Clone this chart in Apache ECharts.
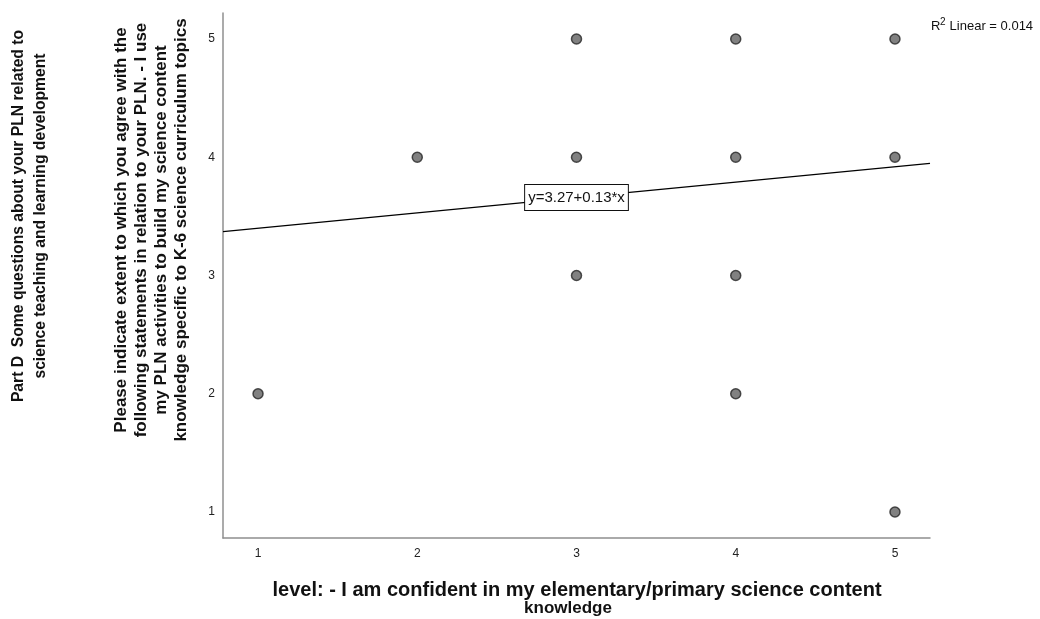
<!DOCTYPE html>
<html>
<head>
<meta charset="utf-8">
<script src="https://cdn.jsdelivr.net/npm/echarts@6/dist/echarts.min.js"></script>
<style>
  html, body { margin: 0; padding: 0; background: #fff; }
  #chart { width: 1040px; height: 619px; }
</style>
</head>
<body>
<div id="chart"></div>
<script>
// Responses on the two 1-5 agreement items (one point per response pattern)
const confidenceLevel = [1, 2, 3, 3, 3, 4, 4, 4, 4, 5, 5, 5];
const plnKnowledgeUse = [2, 4, 5, 4, 3, 5, 4, 3, 2, 5, 4, 1];

// Tick labels shown on both axes
const tickValues = [1, 2, 3, 4, 5];

// Axis extent (padded around the 1-5 scale)
const axisMin = 0.78;
const axisMax = 5.22;

// Linear fit
const fitIntercept = 3.27;
const fitSlope = 0.13;
const fitRSquared = 0.014;

const xTitleLines = [
  'level: - I am confident in my elementary/primary science content',
  'knowledge'
];
const yTitleOuterLines = [
  'Part D  Some questions about your PLN related to',
  'science teaching and learning development'
];
const yTitleInnerLines = [
  'Please indicate extent to which you agree with the',
  'following statements in relation to your PLN. - I use',
  'my PLN activities to build my science content',
  'knowledge specific to K-6 science curriculum topics'
];

const points = confidenceLevel.map((x, i) => [x, plnKnowledgeUse[i]]);
const fitAt = x => fitIntercept + fitSlope * x;
const fitLine = [[axisMin, fitAt(axisMin)], [axisMax, fitAt(axisMax)]];
const fitLabelX = 3;

const chart = echarts.init(document.getElementById('chart'), null, { renderer: 'canvas' });

const fontStack = '"Liberation Sans", Arial, sans-serif';

const axisCommon = {
  type: 'value',
  min: axisMin,
  max: axisMax,
  splitLine: { show: false },
  axisTick: { show: false },
  axisLine: { show: true, lineStyle: { color: '#8f8f8f', width: 1.5 } },
  axisLabel: {
    customValues: tickValues,
    color: '#222',
    fontFamily: fontStack,
    fontSize: 12
  }
};

chart.setOption({
  animation: false,
  backgroundColor: '#fff',
  grid: { left: 223, right: 110, top: 13, bottom: 81, containLabel: false },
  xAxis: Object.assign({}, axisCommon, {
    axisLabel: Object.assign({}, axisCommon.axisLabel, { margin: 10 })
  }),
  yAxis: Object.assign({}, axisCommon, {
    axisLabel: Object.assign({}, axisCommon.axisLabel, { margin: 8 })
  }),
  series: [
    {
      name: 'Linear fit',
      type: 'line',
      data: fitLine,
      symbol: 'none',
      silent: true,
      z: 2,
      lineStyle: { color: '#000', width: 1.2 },
      markPoint: {
        symbol: 'rect',
        symbolSize: 0,
        data: [{ coord: [fitLabelX, fitAt(fitLabelX)] }],
        label: {
          show: true,
          position: 'inside',
          formatter: 'y=' + fitIntercept.toFixed(2) + '+' + fitSlope.toFixed(2) + '*x',
          color: '#111',
          fontFamily: fontStack,
          fontSize: 15,
          lineHeight: 17,
          backgroundColor: '#fff',
          borderColor: '#111',
          borderWidth: 1,
          padding: [5, 3, 3, 3]
        }
      }
    },
    {
      name: 'Responses',
      type: 'scatter',
      data: points,
      symbol: 'circle',
      symbolSize: 10,
      z: 3,
      itemStyle: { color: '#616161', borderColor: '#262626', borderWidth: 1.5 }
    }
  ],
  graphic: [
    {
      type: 'text',
      left: 931,
      top: 20,
      style: { text: 'R', font: '13px ' + fontStack, fill: '#111' }
    },
    {
      type: 'text',
      left: 940,
      top: 17,
      style: { text: '2', font: '10px ' + fontStack, fill: '#111' }
    },
    {
      type: 'text',
      left: 946,
      top: 20,
      style: {
        text: ' Linear = ' + fitRSquared.toFixed(3),
        font: '13px ' + fontStack,
        fill: '#111'
      }
    },
    {
      type: 'text',
      x: 577,
      y: 590,
      style: {
        text: xTitleLines[0],
        font: 'bold 20px ' + fontStack,
        fill: '#111',
        align: 'center',
        verticalAlign: 'middle'
      }
    },
    {
      type: 'text',
      x: 568,
      y: 608,
      style: {
        text: xTitleLines[1],
        font: 'bold 17px ' + fontStack,
        fill: '#111',
        align: 'center',
        verticalAlign: 'middle'
      }
    },
    {
      type: 'text',
      x: 30,
      y: 216,
      rotation: Math.PI / 2,
      style: {
        text: yTitleOuterLines.join('\n'),
        font: 'bold 15.7px ' + fontStack,
        fill: '#111',
        align: 'center',
        verticalAlign: 'middle',
        lineHeight: 22
      }
    },
    {
      type: 'text',
      x: 151,
      y: 230,
      rotation: Math.PI / 2,
      style: {
        text: yTitleInnerLines.join('\n'),
        font: 'bold 17px ' + fontStack,
        fill: '#111',
        align: 'center',
        verticalAlign: 'middle',
        lineHeight: 20
      }
    }
  ]
});
</script>
</body>
</html>
